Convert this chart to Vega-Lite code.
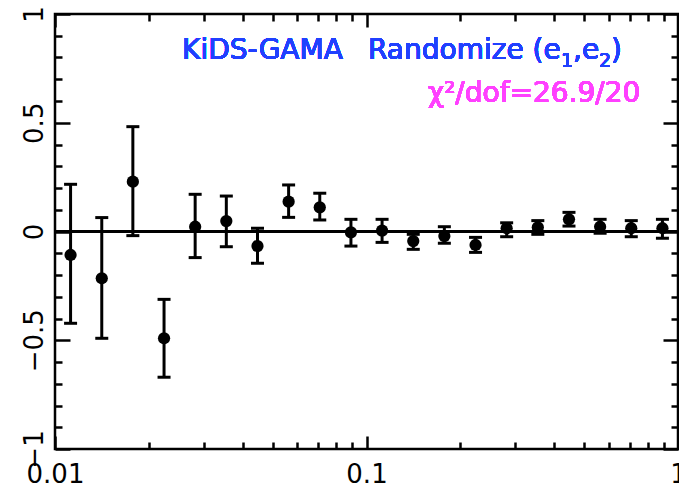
{
  "$schema": "https://vega.github.io/schema/vega-lite/v6.json",
  "width": 623,
  "height": 435,
  "autosize": {"type": "none"},
  "padding": {"left": 55, "top": 14, "right": 1, "bottom": 39},
  "background": "white",
  "config": {
    "view": {"stroke": "black", "strokeWidth": 2.5},
    "axis": {"domain": false, "grid": false, "labelFont": "DejaVu Sans", "labelFontSize": 26, "labelColor": "black", "tickColor": "black", "tickWidth": 2.5, "labelOverlap": false, "labelBound": false, "labelFlush": false, "title": null}
  },
  "data": {"values": [
    {"r": 0.01122, "v": -0.108, "lo": -0.422, "hi": 0.217},
    {"r": 0.01413, "v": -0.215, "lo": -0.491, "hi": 0.064},
    {"r": 0.01778, "v": 0.229, "lo": -0.019, "hi": 0.482},
    {"r": 0.02239, "v": -0.491, "lo": -0.670, "hi": -0.312},
    {"r": 0.02818, "v": 0.022, "lo": -0.120, "hi": 0.171},
    {"r": 0.03548, "v": 0.048, "lo": -0.070, "hi": 0.163},
    {"r": 0.04467, "v": -0.067, "lo": -0.146, "hi": 0.015},
    {"r": 0.05623, "v": 0.137, "lo": 0.065, "hi": 0.214},
    {"r": 0.07079, "v": 0.111, "lo": 0.053, "hi": 0.176},
    {"r": 0.08913, "v": -0.004, "lo": -0.067, "hi": 0.056},
    {"r": 0.1122, "v": 0.004, "lo": -0.050, "hi": 0.056},
    {"r": 0.1413, "v": -0.044, "lo": -0.082, "hi": -0.013},
    {"r": 0.1778, "v": -0.021, "lo": -0.054, "hi": 0.022},
    {"r": 0.2239, "v": -0.062, "lo": -0.096, "hi": -0.027},
    {"r": 0.2818, "v": 0.015, "lo": -0.024, "hi": 0.040},
    {"r": 0.3548, "v": 0.019, "lo": -0.013, "hi": 0.050},
    {"r": 0.4467, "v": 0.056, "lo": 0.025, "hi": 0.088},
    {"r": 0.5623, "v": 0.022, "lo": -0.008, "hi": 0.056},
    {"r": 0.7079, "v": 0.015, "lo": -0.024, "hi": 0.050},
    {"r": 0.8913, "v": 0.015, "lo": -0.031, "hi": 0.056}
  ]},
  "resolve": {"axis": {"x": "independent", "y": "independent"}},
  "layer": [
    {
      "mark": {"type": "rule", "color": "black", "strokeWidth": 2.5},
      "encoding": {
        "y": {"datum": 0, "type": "quantitative", "scale": {"domain": [-1, 1], "nice": false, "zero": false}, "axis": null}
      }
    },
    {
      "mark": {"type": "rule", "color": "black", "strokeWidth": 3},
      "encoding": {
        "x": {"field": "r", "type": "quantitative", "scale": {"type": "log", "domain": [0.01, 1], "nice": false}, "axis": {"orient": "bottom", "values": [0.01, 0.1, 1], "format": "~g", "tickSize": -13, "labelPadding": 25}},
        "y": {"field": "lo", "type": "quantitative", "scale": {"domain": [-1, 1], "nice": false, "zero": false}, "axis": {"orient": "left", "values": [-1, -0.5, 0, 0.5, 1], "format": "~g", "tickSize": -15, "labelAngle": -90, "labelPadding": 23}},
        "y2": {"field": "hi"}
      }
    },
    {
      "mark": {"type": "tick", "orient": "horizontal", "size": 13, "thickness": 3, "color": "black", "opacity": 1},
      "encoding": {
        "x": {"field": "r", "type": "quantitative", "scale": {"type": "log", "domain": [0.01, 1], "nice": false}, "axis": {"orient": "bottom", "values": [0.02, 0.03, 0.04, 0.05, 0.06, 0.07, 0.08, 0.09, 0.2, 0.3, 0.4, 0.5, 0.6, 0.7, 0.8, 0.9], "labels": false, "tickSize": -7}},
        "y": {"field": "lo", "type": "quantitative", "scale": {"domain": [-1, 1], "nice": false, "zero": false}, "axis": {"orient": "left", "values": [-0.9, -0.8, -0.7, -0.6, -0.4, -0.3, -0.2, -0.1, 0.1, 0.2, 0.3, 0.4, 0.6, 0.7, 0.8, 0.9], "labels": false, "tickSize": -7}}
      }
    },
    {
      "mark": {"type": "tick", "orient": "horizontal", "size": 13, "thickness": 3, "color": "black", "opacity": 1},
      "encoding": {
        "x": {"field": "r", "type": "quantitative", "scale": {"type": "log", "domain": [0.01, 1], "nice": false}, "axis": {"orient": "top", "values": [0.02, 0.03, 0.04, 0.05, 0.06, 0.07, 0.08, 0.09, 0.2, 0.3, 0.4, 0.5, 0.6, 0.7, 0.8, 0.9], "labels": false, "tickSize": -7}},
        "y": {"field": "hi", "type": "quantitative", "scale": {"domain": [-1, 1], "nice": false, "zero": false}, "axis": {"orient": "right", "values": [-0.9, -0.8, -0.7, -0.6, -0.4, -0.3, -0.2, -0.1, 0.1, 0.2, 0.3, 0.4, 0.6, 0.7, 0.8, 0.9], "labels": false, "tickSize": -7}}
      }
    },
    {
      "mark": {"type": "point", "filled": true, "shape": "circle", "size": 150, "color": "black", "opacity": 1},
      "encoding": {
        "x": {"field": "r", "type": "quantitative", "scale": {"type": "log", "domain": [0.01, 1], "nice": false}, "axis": {"orient": "top", "values": [0.01, 0.1, 1], "labels": false, "tickSize": -13}},
        "y": {"field": "v", "type": "quantitative", "scale": {"domain": [-1, 1], "nice": false, "zero": false}, "axis": {"orient": "right", "values": [-1, -0.5, 0, 0.5, 1], "labels": false, "tickSize": -15}}
      }
    },
    {
      "mark": {"type": "text", "text": "KiDS-GAMA", "align": "left", "baseline": "alphabetic", "font": "DejaVu Sans", "fontWeight": "normal", "fontSize": 28, "color": "#2040ff"},
      "encoding": {
        "x": {"datum": 0.02558, "type": "quantitative", "axis": null},
        "y": {"datum": 0.791, "type": "quantitative", "axis": null}
      }
    },
    {
      "mark": {"type": "text", "text": "Randomize (e", "align": "left", "baseline": "alphabetic", "font": "DejaVu Sans", "fontWeight": "normal", "fontSize": 28, "color": "#2040ff"},
      "encoding": {
        "x": {"datum": 0.1011, "type": "quantitative", "axis": null},
        "y": {"datum": 0.791, "type": "quantitative", "axis": null}
      }
    },
    {
      "mark": {"type": "text", "text": "1", "align": "left", "baseline": "alphabetic", "dx": 193, "dy": 8, "font": "DejaVu Sans", "fontWeight": "normal", "fontSize": 19, "color": "#2040ff"},
      "encoding": {
        "x": {"datum": 0.1011, "type": "quantitative", "axis": null},
        "y": {"datum": 0.791, "type": "quantitative", "axis": null}
      }
    },
    {
      "mark": {"type": "text", "text": ",e", "align": "left", "baseline": "alphabetic", "dx": 205, "font": "DejaVu Sans", "fontWeight": "normal", "fontSize": 28, "color": "#2040ff"},
      "encoding": {
        "x": {"datum": 0.1011, "type": "quantitative", "axis": null},
        "y": {"datum": 0.791, "type": "quantitative", "axis": null}
      }
    },
    {
      "mark": {"type": "text", "text": "2", "align": "left", "baseline": "alphabetic", "dx": 231, "dy": 8, "font": "DejaVu Sans", "fontWeight": "normal", "fontSize": 19, "color": "#2040ff"},
      "encoding": {
        "x": {"datum": 0.1011, "type": "quantitative", "axis": null},
        "y": {"datum": 0.791, "type": "quantitative", "axis": null}
      }
    },
    {
      "mark": {"type": "text", "text": ")", "align": "left", "baseline": "alphabetic", "dx": 243, "font": "DejaVu Sans", "fontWeight": "normal", "fontSize": 28, "color": "#2040ff"},
      "encoding": {
        "x": {"datum": 0.1011, "type": "quantitative", "axis": null},
        "y": {"datum": 0.791, "type": "quantitative", "axis": null}
      }
    },
    {
      "mark": {"type": "text", "text": "χ²/dof=26.9/20", "align": "left", "baseline": "alphabetic", "font": "DejaVu Sans", "fontWeight": "normal", "fontSize": 28, "color": "#ff40ff"},
      "encoding": {
        "x": {"datum": 0.1575, "type": "quantitative", "axis": null},
        "y": {"datum": 0.597, "type": "quantitative", "axis": null}
      }
    }
  ]
}
